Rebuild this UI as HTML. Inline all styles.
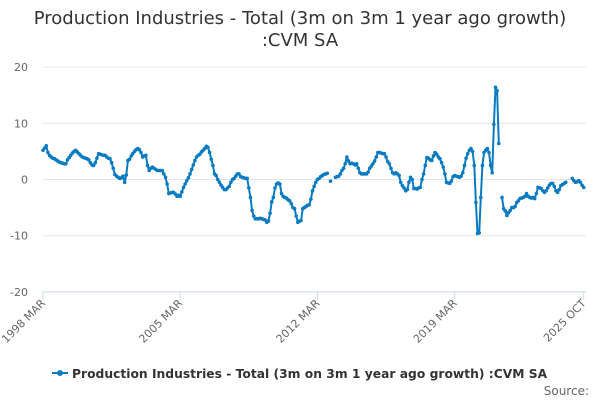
<!DOCTYPE html>
<html><head><meta charset="utf-8"><style>
body{margin:0;background:#fff;font-family:"DejaVu Sans",sans-serif}
svg text{font-family:"DejaVu Sans",sans-serif}
</style></head><body>
<svg id="chart" width="600" height="400" xmlns="http://www.w3.org/2000/svg">
<text x="300" y="24" text-anchor="middle" font-size="18" fill="#333">Production Industries - Total (3m on 3m 1 year ago growth)</text>
<text x="300" y="46" text-anchor="middle" font-size="18" fill="#333">:CVM SA</text>
<g id="grid"></g>
<g id="series"></g>
<g>
<line x1="52" y1="373" x2="68" y2="373" stroke="#0a7bc1" stroke-width="2"/>
<circle cx="60" cy="373" r="3" fill="#0a7bc1"/>
<text x="72" y="378" font-size="12.3" font-weight="bold" fill="#333">Production Industries - Total (3m on 3m 1 year ago growth) :CVM SA</text>
</g>
<text x="589" y="395" text-anchor="end" font-size="12" fill="#666">Source:</text>
</svg>
<script>
const yTicks=[20,10,0,-10,-20];
const xTickIdx=[0,84,168,252,331];
const xTickLabels=["1998 MAR","2005 MAR","2012 MAR","2019 MAR","2025 OCT"];
const values=[
5.2,5.6,6.0,4.8,4.3,4.0,3.8,3.7,3.5,3.3,3.1,3.0,
2.9,2.8,2.8,3.5,3.9,4.3,4.7,5.0,5.2,4.9,4.6,4.3,
4.0,3.9,3.8,3.7,3.5,3.0,2.6,2.5,3.0,3.8,4.6,4.5,
4.4,4.3,4.3,4.0,3.8,3.7,3.0,2.0,0.9,0.6,0.4,0.2,
0.3,0.6,-0.5,0.8,3.4,3.6,4.2,4.6,5.0,5.3,5.5,5.3,
4.8,4.0,4.2,4.3,2.5,1.6,2.0,2.2,2.0,1.8,1.6,1.6,
1.6,1.6,1.0,0.4,-0.8,-2.5,-2.4,-2.3,-2.3,-2.6,-3.0,-2.8,
-3.0,-2.2,-1.4,-0.8,-0.2,0.3,1.0,1.8,2.6,3.4,4.0,4.3,
4.5,4.9,5.2,5.5,5.9,5.7,4.8,3.6,2.5,1.0,0.7,0.0,
-0.5,-1.0,-1.4,-1.8,-1.8,-1.5,-1.2,-0.5,0.0,0.2,0.6,1.0,
1.0,0.5,0.4,0.3,0.2,0.2,-1.5,-3.2,-5.5,-6.5,-7.0,-7.0,
-7.0,-6.9,-7.0,-7.1,-7.2,-7.6,-7.4,-6.0,-4.0,-3.2,-1.5,-0.8,
-0.6,-0.8,-2.5,-3.0,-3.2,-3.3,-3.6,-3.8,-4.3,-5.0,-5.2,-6.5,
-7.6,-7.4,-7.3,-5.2,-5.0,-4.8,-4.6,-4.5,-3.5,-2.0,-1.2,-0.5,
0.0,0.2,0.5,0.7,0.9,1.0,1.1,null,-0.3,null,null,0.4,
0.5,0.6,1.0,1.6,2.0,2.8,4.0,3.3,2.8,2.9,2.8,2.6,
2.8,2.0,1.2,1.0,1.0,1.0,1.0,1.3,2.0,2.4,2.8,3.3,
4.0,4.8,4.8,4.7,4.6,4.6,4.0,3.2,2.8,2.0,1.2,1.0,
1.2,1.0,0.7,-0.5,-1.1,-1.5,-2.0,-1.8,-0.5,0.4,0.0,-1.6,
-1.6,-1.7,-1.5,-1.4,0.0,1.0,2.5,3.9,3.8,3.5,3.4,4.2,
4.8,4.5,4.0,3.7,3.0,2.2,1.0,-0.5,-0.6,-0.7,-0.3,0.5,
0.7,0.6,0.5,0.4,0.6,1.2,2.5,3.8,4.6,5.2,5.5,5.0,
2.5,-4.1,-9.6,-9.5,-3.2,2.5,4.8,5.2,5.5,4.8,2.5,1.2,
9.8,16.4,15.8,6.4,null,-3.2,-5.2,-5.6,-6.4,-5.9,-5.5,-5.0,
-5.0,-4.8,-4.1,-3.8,-3.4,-3.3,-3.2,-3.0,-2.5,-3.0,-3.2,-3.3,
-3.2,-3.4,-2.5,-1.4,-1.5,-1.6,-2.0,-2.3,-2.0,-1.5,-1.0,-0.7,
-0.7,-1.2,-2.0,-2.3,-1.8,-1.1,-0.9,-0.7,-0.5,null,null,null,
0.2,-0.2,-0.5,-0.4,-0.2,-0.5,-1.0,-1.4
];
const NS="http://www.w3.org/2000/svg";
const X0=43,X1=583.7,Y0=179.5,PPU=5.62;
const xs=i=>X0+(X1-X0)*i/(values.length-1);
const ys=v=>Y0-v*PPU;
const grid=document.getElementById('grid'),ser=document.getElementById('series');
function mk(tag,at,parent){const e=document.createElementNS(NS,tag);for(const k in at)e.setAttribute(k,at[k]);parent.appendChild(e);return e;}
yTicks.forEach(t=>{
 const y=ys(t);
 if(t!==-20){const g=mk('line',{x1:X0,x2:586,y1:y,y2:y,stroke:'#e6e6e6','stroke-width':1},grid);
 
 }
 const tx=mk('text',{x:28,y:y+4,'text-anchor':'end','font-size':11,fill:'#666'},grid);
 tx.textContent=t;
 
 
});
const ax=mk('line',{x1:X0,x2:586,y1:ys(-20),y2:ys(-20),stroke:'#ccd6eb','stroke-width':1},grid);


xTickIdx.forEach((idx,k)=>{
 const x=xs(idx),y=ys(-20);
 const tk=mk('line',{x1:x,x2:x,y1:y,y2:y+8,stroke:'#ccd6eb'},grid);
 
 
 const tx=mk('text',{x:x+3,y:y+12,'text-anchor':'end','font-size':11,fill:'#666',transform:`rotate(-45 ${x+3} ${y+12})`},grid);
 tx.textContent=xTickLabels[k];
 
 
});
let d='',pen=false;
values.forEach((v,i)=>{
 if(v===null){pen=false;return;}
 d+=(pen?'L':'M')+xs(i).toFixed(1)+' '+ys(v).toFixed(1);pen=true;
});
const p=mk('path',{d:d,fill:'none',stroke:'#0a7bc1','stroke-width':2,'stroke-linejoin':'round'},ser);


values.forEach((v,i)=>{
 if(v===null)return;
 const c=mk('circle',{cx:xs(i),cy:ys(v),r:1.8,fill:'#0a7bc1'},ser);
 
 
});
</script>
</body></html>
